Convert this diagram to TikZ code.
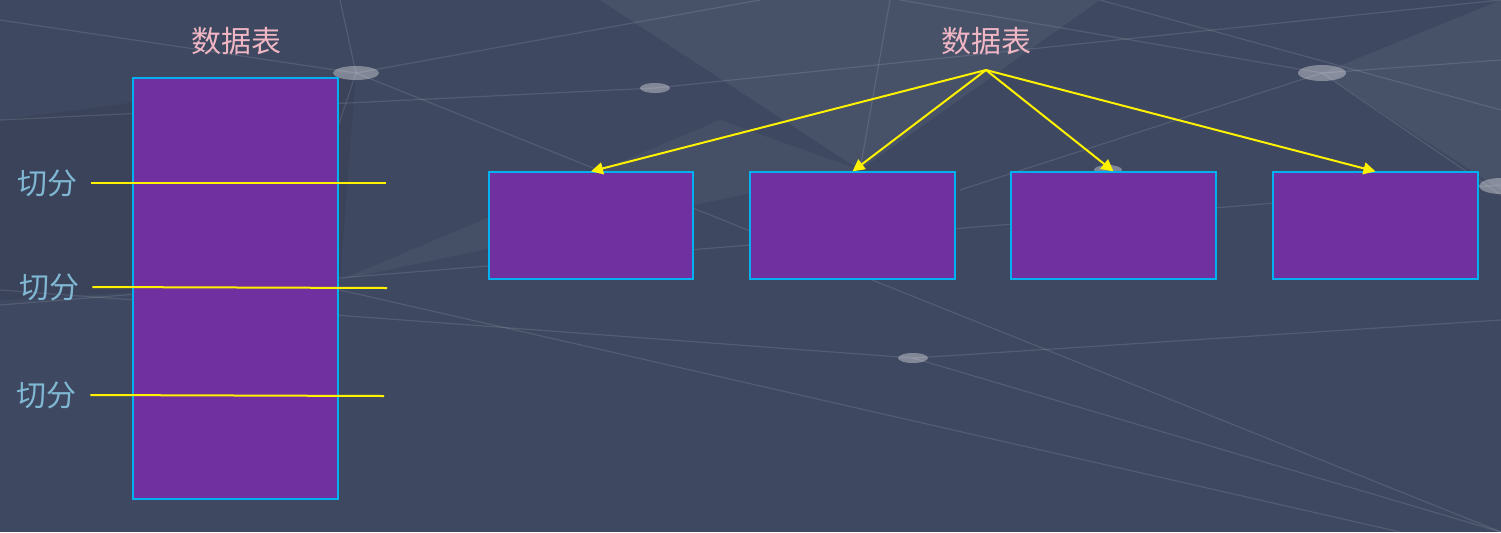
\documentclass[tikz,border=0pt]{standalone}
\usepackage{fontspec}
\newfontfamily\cjk{Noto Sans CJK SC}
\usetikzlibrary{arrows.meta}

\definecolor{bgslate}{RGB}{62,72,96}
\definecolor{boxpurple}{RGB}{112,48,160}
\definecolor{boxedge}{RGB}{0,176,240}
\definecolor{titlepink}{RGB}{240,182,196}
\definecolor{cutblue}{RGB}{128,184,212}

\tikzset{
  tablebox/.style={draw=boxedge, fill=boxpurple, line width=0.6pt, rectangle, inner sep=0pt},
  title/.style={text=titlepink, font=\cjk\fontsize{15pt}{17pt}\selectfont},
  cutlabel/.style={text=cutblue, font=\cjk\fontsize{15pt}{17pt}\selectfont, inner sep=6.5pt},
  cutline/.style={draw=yellow, line width=1pt},
  split/.style={draw=yellow, line width=1pt, -{Triangle[length=6pt,width=6pt]}},
  webline/.style={draw=white, opacity=0.11, line width=0.6pt},
  webdot/.style={fill=white, opacity=0.35}
}

\begin{document}
\begin{tikzpicture}[x=0.5pt, y=-0.5pt]
  \useasboundingbox (0,0) rectangle (1501,532);
  \fill[bgslate] (0,0) rectangle (1501,532);

  % background web
  \fill[white, opacity=0.05] (600,0) -- (1100,0) -- (860,170) -- cycle;
  \fill[white, opacity=0.04] (340,280) -- (860,170) -- (720,120) -- cycle;
  \fill[white, opacity=0.05] (1322,73) -- (1501,0) -- (1501,190) -- cycle;
  \fill[black, opacity=0.06] (0,120) -- (356,73) -- (340,280) -- (0,300) -- cycle;
  \foreach \xa/\ya/\xb/\yb in {340/0/356/73, 356/73/330/150, 0/20/356/73,
      356/73/760/0, 356/73/1501/532, 0/305/1501/185,
      1322/73/1501/60, 1322/73/900/0, 1322/73/1501/195,
      1322/73/960/190, 913/358/1501/320, 913/358/0/290,
      913/358/1501/532, 890/0/860/170, 655/88/1501/0,
      0/120/655/88, 340/290/1400/532, 1100/0/1501/110}
    \draw[webline] (\xa,\ya) -- (\xb,\yb);
  \fill[webdot] (356,73) ellipse (23 and 7);
  \fill[webdot] (655,88) ellipse (15 and 5);
  \fill[webdot] (1322,73) ellipse (24 and 8);
  \fill[webdot] (913,358) ellipse (15 and 5);
  \fill[webdot] (1108,170) ellipse (14 and 5);
  \fill[webdot] (1501,186) ellipse (22 and 8);

  % left: one table cut into parts
  \node[title] (t1) at (236,41) {数据表};
  \node[tablebox, minimum width=102.5pt, minimum height=210.5pt] (big) at (235.5,288.5) {};
  \node[cutlabel] (c1) at (48,183) {切分};
  \node[cutlabel] (c2) at (49,287) {切分};
  \node[cutlabel] (c3) at (47,395) {切分};
  \coordinate (e1) at (386,183);
  \coordinate (e2) at (387,288);
  \coordinate (e3) at (384,396);
  \draw[cutline] (c1.east) -- (e1);
  \draw[cutline] (c2.east) -- (e2);
  \draw[cutline] (c3.east) -- (e3);

  % right: one table split into four
  \node[title] (t2) at (986,41) {数据表};
  \coordinate (src) at (986,70);
  \node[tablebox, minimum width=102pt, minimum height=53.5pt] (p1) at (591,225.5) {};
  \node[tablebox, minimum width=102.5pt, minimum height=53.5pt] (p2) at (852.5,225.5) {};
  \node[tablebox, minimum width=102.5pt, minimum height=53.5pt] (p3) at (1113.5,225.5) {};
  \node[tablebox, minimum width=102.5pt, minimum height=53.5pt] (p4) at (1375.5,225.5) {};
  \draw[split] (src) -- (p1.north);
  \draw[split] (src) -- (p2.north);
  \draw[split] (src) -- (p3.north);
  \draw[split] (src) -- (p4.north);
\end{tikzpicture}
\end{document}
